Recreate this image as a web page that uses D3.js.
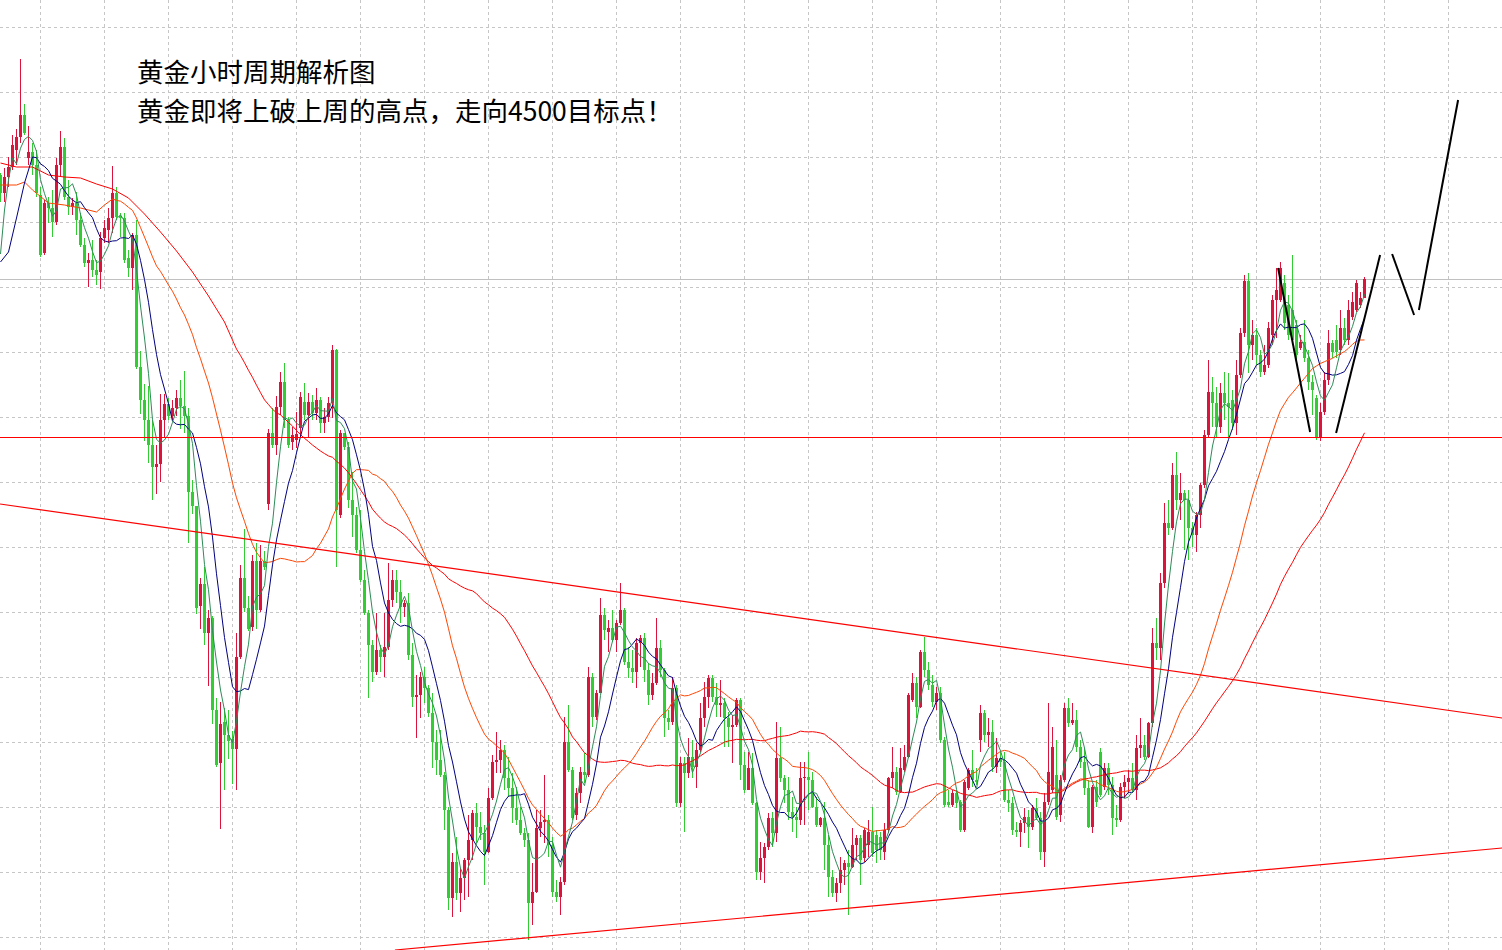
<!DOCTYPE html>
<html lang="zh-CN">
<head>
<meta charset="UTF-8">
<title>黄金小时周期解析图</title>
<script src="https://cdn.jsdelivr.net/npm/d3@7"></script>
<style>
  html, body { margin: 0; padding: 0; background: #fff; }
  svg { display: block; }
</style>
</head>
<body>
<svg id="chart" width="1502" height="950"></svg>
<script>
// hourly gold candles (price units)
const opens = [
  4302.5,4293.5,4301.5,4306.5,4315,4321.5,4332.5,4311,4314,4307.5,
  4292.5,4263.5,4288.5,4286,4279,4307.5,4316.5,4291.5,4286.5,4288.5,
  4280,4267.5,4258.5,4260,4255,4254,4271,4275,4281,4293.5,
  4282,4281,4261,4256,4272.5,4206.5,4190,4180,4167.5,4156.5,
  4158,4180,4188,4182,4186,4191,4187,4182,4144,4137,
  4087,4098,4073.5,4081,4035,4008.5,4029,4022.5,4020.5,4015.5,
  4061.5,4101,4086,4076.5,4109.5,4085,4109.5,4138,4173.5,4167.5,
  4186.5,4199,4180,4169,4170,4176,4189,4182.5,4189,4183.5,
  4190,4178.5,4181.5,4188.5,4215,4132.5,4173.5,4166.5,4140,4132.5,
  4115,4100,4083.5,4067.5,4054,4065,4061.5,4066.5,4090,4100,
  4094,4086.5,4088.5,4062.5,4041.5,4042.5,4051.5,4046,4033.5,4019,
  4010,4002.5,3985,3941,3959,3943.5,3951,3960,3970,3983.5,
  3976.5,3973.5,3964,3991,4009,4010,4015,4001,3996,3986,
  3980,3973.5,3970,3938.5,3944,3976,3979,3980,3967.5,3944,
  3941.5,3949,4019,4005,3982.5,3993.5,4004,4002.5,4051.5,4031.5,
  4043.5,4082.5,4074,4076,4070,4078.5,4085,4059,4056,4054,
  4068.5,4071,4055,4042.5,4048.5,4066,4055,4031,4029,4046,
  3988.5,4008.5,4003.5,4011.5,4006.5,4015,4031,4041.5,4051,4041.5,
  4037.5,4038.5,4031,4026.5,4027.5,4040,4007.5,3995,4006,3988.5,
  3954,3961,3966.5,3981,3973.5,4011,4001,3995,3984,3981.5,
  3980,4001,4001.5,4000,3986.5,3977.5,3981,3967.5,3951.5,3943.5,
  3948.5,3955,3958.5,3956.5,3967.5,3971,3961,3967.5,3974,3972.5,
  3971.5,3964,3975,4001,4004,3994,4005,4011.5,4040,4048.5,
  4036.5,4064,4055,4047.5,4039,4043.5,4020,3989,3987.5,3993.5,
  3989,3975,3996,4005,4000,4020,4033.5,4022.5,4024,4006.5,
  4011,4009,3990,3988.5,3975,3974,3978.5,3981.5,3976.5,3986,
  3981,3964,3989,3995,4002.5,3982.5,4000,4036,4028.5,4030,
  4016.5,4009,3996,3976.5,3996.5,4014,3996.5,4006,3997.5,3981,
  3980,3996.5,3999,4001,3995,4016,4017.5,4011.5,4028.5,4068.5,
  4066,4098.5,4128.5,4126,4152.5,4140,4143.5,4140,4126,4122.5,
  4132.5,4147.5,4172.5,4194,4188.5,4176.5,4193.5,4188.5,4190,4178.5,
  4202.5,4223.5,4249.5,4217.5,4222.5,4212.5,4204,4207.5,4222.5,4240,
  4240,4248.5,4237.5,4235,4227.5,4216,4219,4211,4199,4191,
  4171.5,4184,4200,4218.5,4220,4215,4226,4220,4231.5,4235,
  4237.5,4241
];
const highs = [
  4303.5,4306,4311.5,4322.5,4325.5,4360.5,4338,4327,4318.5,4315,
  4296.5,4290,4291.5,4295,4311,4324.5,4321,4300,4291,4294,
  4283.5,4271,4263.5,4270,4260,4274,4280,4286,4307,4296.5,
  4283.5,4283.5,4265,4273.5,4280,4214.5,4198,4197,4180,4167.5,
  4193,4193,4191,4190,4195,4200,4204.5,4186,4150,4137,
  4101,4106.5,4085,4082,4041,4039,4036,4035,4024.5,4073.5,
  4107.5,4125.5,4092,4112.5,4118.5,4117.5,4114.5,4175.5,4186,4192,
  4204,4208.5,4181.5,4176.5,4184,4194,4198.5,4193.5,4192.5,4196,
  4191.5,4186,4191.5,4217.5,4215.5,4175,4173.5,4169,4154,4136.5,
  4135,4105,4085,4070,4083.5,4067.5,4083.5,4108.5,4105,4105,
  4100,4090,4093.5,4068.5,4052.5,4054,4056.5,4047.5,4043.5,4025,
  4025,4004,3986.5,3963.5,3971.5,3956,3961,3982.5,3985,3988.5,
  3984,3977.5,3996,4012.5,4024,4020,4017.5,4011.5,4003.5,3996.5,
  3986.5,3976,3973.5,3958.5,3985,3985,4002.5,3982.5,3971.5,3950,
  3951.5,4031.5,4037.5,4006.5,3996,4006.5,4013.5,4056.5,4053.5,4045,
  4091,4086,4080,4085,4080,4098.5,4086,4066.5,4065,4071,
  4072.5,4073.5,4058.5,4053.5,4081,4070,4056,4035,4051.5,4047.5,
  4011.5,4011.5,4021,4020,4018.5,4038.5,4049,4052.5,4052.5,4048.5,
  4050,4041,4034,4032.5,4041,4041,4014,4014,4013.5,3989,
  3969,3968.5,3983.5,3984,4029,4026.5,4002.5,4001.5,3991.5,3986.5,
  4009,4009,4014,4004,3991.5,3981.5,3989,3972.5,3955,3951,
  3961.5,3960,3965,3976,3972.5,3972.5,3976,3980,3986.5,3975,
  3974,3978.5,4001.5,4016.5,4006.5,4016,4017.5,4043.5,4053.5,4051.5,
  4065,4071.5,4059,4052.5,4046.5,4046.5,4021.5,3995,3995,3995,
  3990,4000,4006,4015,4006,4037.5,4035,4031,4030,4021,
  4014,4014,3995,3991.5,3979,3980,3986,3985,3987.5,3991,
  3984,3993.5,4038.5,4026.5,4020,4002.5,4038.5,4041,4038.5,4035,
  4020,4016,4000,3997.5,4000,4016,4008.5,4008.5,4001.5,3987.5,
  3998.5,4002.5,4005,4008.5,4022.5,4031,4022.5,4029,4076,4081,
  4103.5,4138.5,4140,4158.5,4164,4153.5,4145,4145,4129,4134,
  4148.5,4175,4210,4201.5,4196.5,4198.5,4204,4203.5,4195,4210,
  4226,4252.5,4253.5,4230,4226,4215,4217.5,4229,4242.5,4256,
  4259,4252.5,4242.5,4262.5,4230,4222.5,4230,4215,4202.5,4192.5,
  4188.5,4204,4225,4220,4227.5,4235,4231,4240,4244,4250,
  4244,4251.5
];
const lows = [
  4289,4289,4296.5,4305,4307.5,4318.5,4322.5,4307.5,4302.5,4291.5,
  4261.5,4262.5,4278.5,4271.5,4277.5,4301.5,4290,4282.5,4282.5,4272.5,
  4266.5,4256.5,4246.5,4251.5,4247.5,4245.5,4268.5,4268.5,4273.5,4280,
  4271.5,4258.5,4251.5,4245,4205.5,4183,4169.5,4158.5,4140,4143,
  4149,4171.5,4180,4180,4182,4175.5,4173.5,4118.5,4133,4083,
  4075.5,4067.5,4047,4028,4006.5,3975.5,3995,4010.5,3998,3995,
  4060.5,4084,4074.5,4074.5,4075.5,4084,4105,4135,4166,4162.5,
  4182.5,4176,4166,4165,4166,4171.5,4180,4171,4180,4180,
  4173.5,4173.5,4179,4181,4106.5,4131,4165,4136,4121.5,4113.5,
  4099,4082.5,4041,4049,4052.5,4054,4051.5,4065,4086.5,4088.5,
  4078.5,4081.5,4060,4036.5,4021,4031,4038.5,4031.5,4006,4002.5,
  4001.5,3975,3935,3931.5,3940,3934,3940,3941.5,3960,3968.5,
  3970,3947.5,3963.5,3990,4003.5,4003.5,3995,3991.5,3978.5,3977.5,
  3972.5,3966.5,3920,3927.5,3943.5,3971.5,3968.5,3961.5,3941.5,3939,
  3932.5,3947.5,4004,3980,3980,3988.5,3998.5,4001.5,4026.5,4030,
  4043.5,4070,4064,4069,4064,4077.5,4057.5,4051,4048.5,4046,
  4056.5,4049,4037.5,4040,4047.5,4051.5,4021.5,4025,4027.5,3986.5,
  3986.5,3974,4001,4001,3996,4014,4026.5,4036,4039,4031.5,
  4031.5,4016.5,4016.5,4008.5,4026.5,4000,3993.5,3995,3987.5,3950,
  3950,3948.5,3965,3966.5,3969,3999,3988.5,3980,3974,3971,
  3977.5,3977.5,3985,3986,3976.5,3976.5,3955,3941.5,3941.5,3939,
  3943.5,3947.5,3932.5,3956,3960,3947.5,3959,3961.5,3961.5,3958.5,
  3960,3960,3973.5,3996,3992.5,3993.5,4004,4011,4039,4031,
  4036,4051.5,4045,4036.5,4035,4018.5,3986.5,3986.5,3986.5,3986,
  3974,3974,3995,3996.5,3997.5,4014,4019,4016.5,4004,4003.5,
  4006.5,3989,3984,3972.5,3971.5,3966.5,3973.5,3966,3975,3980,
  3960,3956.5,3987.5,3993.5,3980,3979,3999,4026.5,4027.5,4014,
  4006,3992.5,3976,3973.5,3986.5,3991.5,3995,3992.5,3972.5,3976.5,
  3979,3991,3993.5,3993.5,3990,4011,4010,4011,4026.5,4060,
  4060,4096,4122.5,4125,4135,4130,4115,4110,4116.5,4114,
  4126,4146,4171.5,4176.5,4171,4173.5,4180,4171.5,4175,4172.5,
  4201,4221.5,4203.5,4210,4207.5,4201.5,4202.5,4206,4217.5,4221,
  4239,4225,4220,4217.5,4210,4215,4209,4195,4182.5,4170,
  4169.5,4182.5,4197.5,4211,4211,4212.5,4217.5,4217.5,4230,4234,
  4236,4241
];
const closes = [
  4293.5,4301.5,4306.5,4317.5,4321.5,4332.5,4323.5,4314,4307.5,4293.5,
  4262.5,4288.5,4286,4279,4307.5,4316.5,4291.5,4286.5,4288.5,4280,
  4267.5,4258.5,4260,4255,4252.5,4271,4276,4281,4293.5,4281.5,
  4281,4260,4256,4272.5,4206.5,4190,4180,4167.5,4156.5,4158,
  4180,4188,4182,4186,4191,4187,4182,4144,4137,4086,
  4098,4073.5,4081,4035,4007.5,4028,4022.5,4019.5,4015.5,4061.5,
  4101,4086,4075.5,4109.5,4085,4109.5,4106.5,4173.5,4167.5,4186.5,
  4199,4180,4167.5,4172.5,4173,4191.5,4182.5,4189,4183.5,4190,
  4178.5,4181.5,4188.5,4215,4135,4173.5,4166.5,4140,4132.5,4115,
  4100,4083.5,4067.5,4054,4065,4061.5,4066.5,4090,4100,4094,
  4086.5,4088.5,4062.5,4041.5,4042.5,4051.5,4046,4033.5,4019,4010,
  4002.5,3985,3941,3959,3943.5,3951,3960,3970,3983.5,3976.5,
  3973.5,3964,3991,4009,4010,4015,4001,3996,3986,3980,
  3973.5,3970,3938.5,3944,3976,3979,3980,3967.5,3944,3941.5,
  3949,4019,4005,3981,3993.5,4004,4002.5,4051.5,4031.5,4043.5,
  4082.5,4075,4076,4070,4078.5,4085,4059,4056,4054,4068.5,
  4071,4055,4042.5,4048.5,4066,4055,4031,4029,4046,3988.5,
  4008.5,4003.5,4011.5,4006.5,4015,4031,4041.5,4051,4041.5,4037.5,
  4038.5,4031,4026.5,4027.5,4040,4007.5,3995,4006,3988.5,3954,
  3961,3966.5,3981,3973.5,4011,4001,3995,3984,3981.5,3980,
  4001,4001.5,4000,3986.5,3977.5,3981,3967.5,3951.5,3943.5,3948.5,
  3955,3958.5,3956.5,3967.5,3971,3960,3975,3974,3963.5,3965,
  3965,3975,4001,4004,3994,4006,4011.5,4042.5,4048.5,4036.5,
  4064,4055,4047.5,4039,4043.5,4020,3987.5,3987.5,3993.5,3988.5,
  3975,3999,4005,4000,3999,4033.5,4022.5,4024,4006.5,4011,
  4009,3990,3988.5,3975,3974,3978.5,3981.5,3976.5,3986,3981,
  3964,3989,4004,4016.5,3981.5,4000,4036,4028.5,4030,4016.5,
  4009,3996,3976.5,3996.5,3989,3992.5,4006,3997.5,3981,3980,
  3996.5,3999,4001,3995,4016,4017.5,4011.5,4028.5,4068.5,4066,
  4098.5,4128.5,4126,4152.5,4140,4143.5,4140,4126,4122.5,4132.5,
  4147.5,4172.5,4194,4188.5,4176.5,4193.5,4188.5,4186.5,4178.5,4202.5,
  4223.5,4249.5,4217.5,4222.5,4212.5,4204,4207.5,4226,4240,4245,
  4256,4228.5,4222.5,4220,4212.5,4219,4211,4199,4195,4171.5,
  4184,4200,4218.5,4214,4214,4226,4220,4235,4239,4248.5,
  4241,4250.5
];

// moving-average values before each window fills: [bar, price]
const ma5Warm  = [[0,4263],[1,4285],[2,4300],[3,4311]];
const ma10Warm = [[0,4259],[2,4264],[4,4281],[6,4298.5],[8,4311.5]];
const ma30Warm = [[0,4297.5],[4,4297.5],[6,4299],[8,4295],[12,4288.5],[16,4287.5],
                  [20,4286],[24,4284],[26,4287.5],[28,4290.5]];
const ma60Warm = [[0,4308.5],[4,4306.5],[8,4306.5],[12,4302.5],[16,4301.5],[20,4301],
                  [24,4298],[28,4295.5],[32,4291],[36,4283],[40,4274],[44,4264.5],
                  [48,4254],[52,4242],[56,4229]];

// objects drawn on the chart: [bar, price]
const levelPrice = 4171.5;
const downTrend = [[-0.125, 4138], [375.4, 4031]];
const upTrend   = [[98.6, 3915], [375.4, 3966]];
const pathLegs = [
  [[319.4, 4256], [327.4, 4174]],
  [[333.9, 4173.5], [344.9, 4262.5]],
  [[347.9, 4263], [353.4, 4232.5]],
  [[354.6, 4235], [364.4, 4340]]
];

const gridPrices = [4376.5,4344,4311.5,4279,4246.5,4214,4181.5,4149,4116.5,4084,4051.5,4019,3986.5,3954,3921.5];
const gridBars = [10,26,42,58,74,90,106,122,138,154,170,186,202,218,234,250,266,282,298,314,330,346,362];

const titleLines = ["黄金小时周期解析图", "黄金即将上破上周的高点，走向4500目标点！"];

const W = 1502, H = 950;
const svg = d3.select("#chart");
const x = d3.scaleLinear().domain([0, 375]).range([0.5, 1500.5]);
const y = d3.scaleLinear().domain([3915, 4390]).range([H, 0]);

const bars = d3.range(closes.length).map(i => ({
  i, o: opens[i], h: highs[i], l: lows[i], c: closes[i]
}));

// grid
const grid = svg.append("g")
  .attr("stroke", "#c6c6c6")
  .attr("stroke-dasharray", "3,3")
  .attr("shape-rendering", "crispEdges");
grid.selectAll("line.h").data(gridPrices).enter().append("line")
  .attr("x1", 0).attr("x2", W)
  .attr("y1", d => Math.round(y(d)) + 0.5).attr("y2", d => Math.round(y(d)) + 0.5);
grid.selectAll("line.v").data(gridBars).enter().append("line")
  .attr("y1", 0).attr("y2", H)
  .attr("x1", d => x(d)).attr("x2", d => x(d));

// bid line at last close
svg.append("line")
  .attr("x1", 0).attr("x2", W)
  .attr("y1", Math.round(y(closes[closes.length - 1])) + 0.5)
  .attr("y2", Math.round(y(closes[closes.length - 1])) + 0.5)
  .attr("stroke", "#c0c0c0")
  .attr("shape-rendering", "crispEdges");

// candles: red = up, green = down
const candle = svg.append("g").attr("shape-rendering", "crispEdges");
const colorOf = d => d.c >= d.o ? "#dc143c" : "#32cd32";

candle.selectAll("rect.wick").data(bars).enter().append("rect")
  .attr("x", d => x(d.i) - 0.5)
  .attr("width", 1)
  .attr("y", d => Math.round(y(Math.max(d.h, d.o, d.c))))
  .attr("height", d => Math.max(1, Math.round(y(Math.min(d.l, d.o, d.c))) - Math.round(y(Math.max(d.h, d.o, d.c)))))
  .attr("fill", colorOf);

candle.selectAll("rect.body").data(bars).enter().append("rect")
  .attr("x", d => x(d.i) - 1.5)
  .attr("width", 3)
  .attr("y", d => Math.round(y(Math.max(d.o, d.c))))
  .attr("height", d => Math.max(1, Math.round(y(Math.min(d.o, d.c))) - Math.round(y(Math.max(d.o, d.c)))))
  .attr("fill", colorOf);

// moving averages
function movingAverage(period, warm) {
  const pts = warm.slice();
  for (let i = period - 1; i < closes.length; i++) {
    pts.push([i, d3.mean(closes.slice(i - period + 1, i + 1))]);
  }
  return pts;
}
const line = d3.line().x(d => x(d[0])).y(d => y(d[1]));
const mas = [
  { pts: movingAverage(60, ma60Warm), color: "#ff0000" },
  { pts: movingAverage(30, ma30Warm), color: "#ff4500" },
  { pts: movingAverage(10, ma10Warm), color: "#000080" },
  { pts: movingAverage(5,  ma5Warm),  color: "#2e8b57" }
];
svg.append("g").selectAll("path").data(mas).enter().append("path")
  .attr("d", d => line(d.pts))
  .attr("fill", "none")
  .attr("stroke", d => d.color)
  .attr("stroke-width", 1);

// level and trend lines
svg.append("line")
  .attr("x1", 0).attr("x2", W)
  .attr("y1", Math.round(y(levelPrice)) + 0.5)
  .attr("y2", Math.round(y(levelPrice)) + 0.5)
  .attr("stroke", "#ff0000")
  .attr("shape-rendering", "crispEdges");

svg.append("g").selectAll("path").data([downTrend, upTrend]).enter().append("path")
  .attr("d", line)
  .attr("fill", "none")
  .attr("stroke", "#ff0000")
  .attr("stroke-width", 1.2);

svg.append("g").selectAll("path").data(pathLegs).enter().append("path")
  .attr("d", line)
  .attr("fill", "none")
  .attr("stroke", "#000")
  .attr("stroke-width", 2);

// title
svg.append("g").selectAll("text").data(titleLines).enter().append("text")
  .attr("x", 137)
  .attr("y", (d, k) => 82 + k * 38.5)
  .attr("font-family", "'Noto Sans CJK SC', 'Noto Sans', sans-serif")
  .attr("font-size", 26.5)
  .attr("fill", "#000")
  .text(d => d);
</script>
</body>
</html>
